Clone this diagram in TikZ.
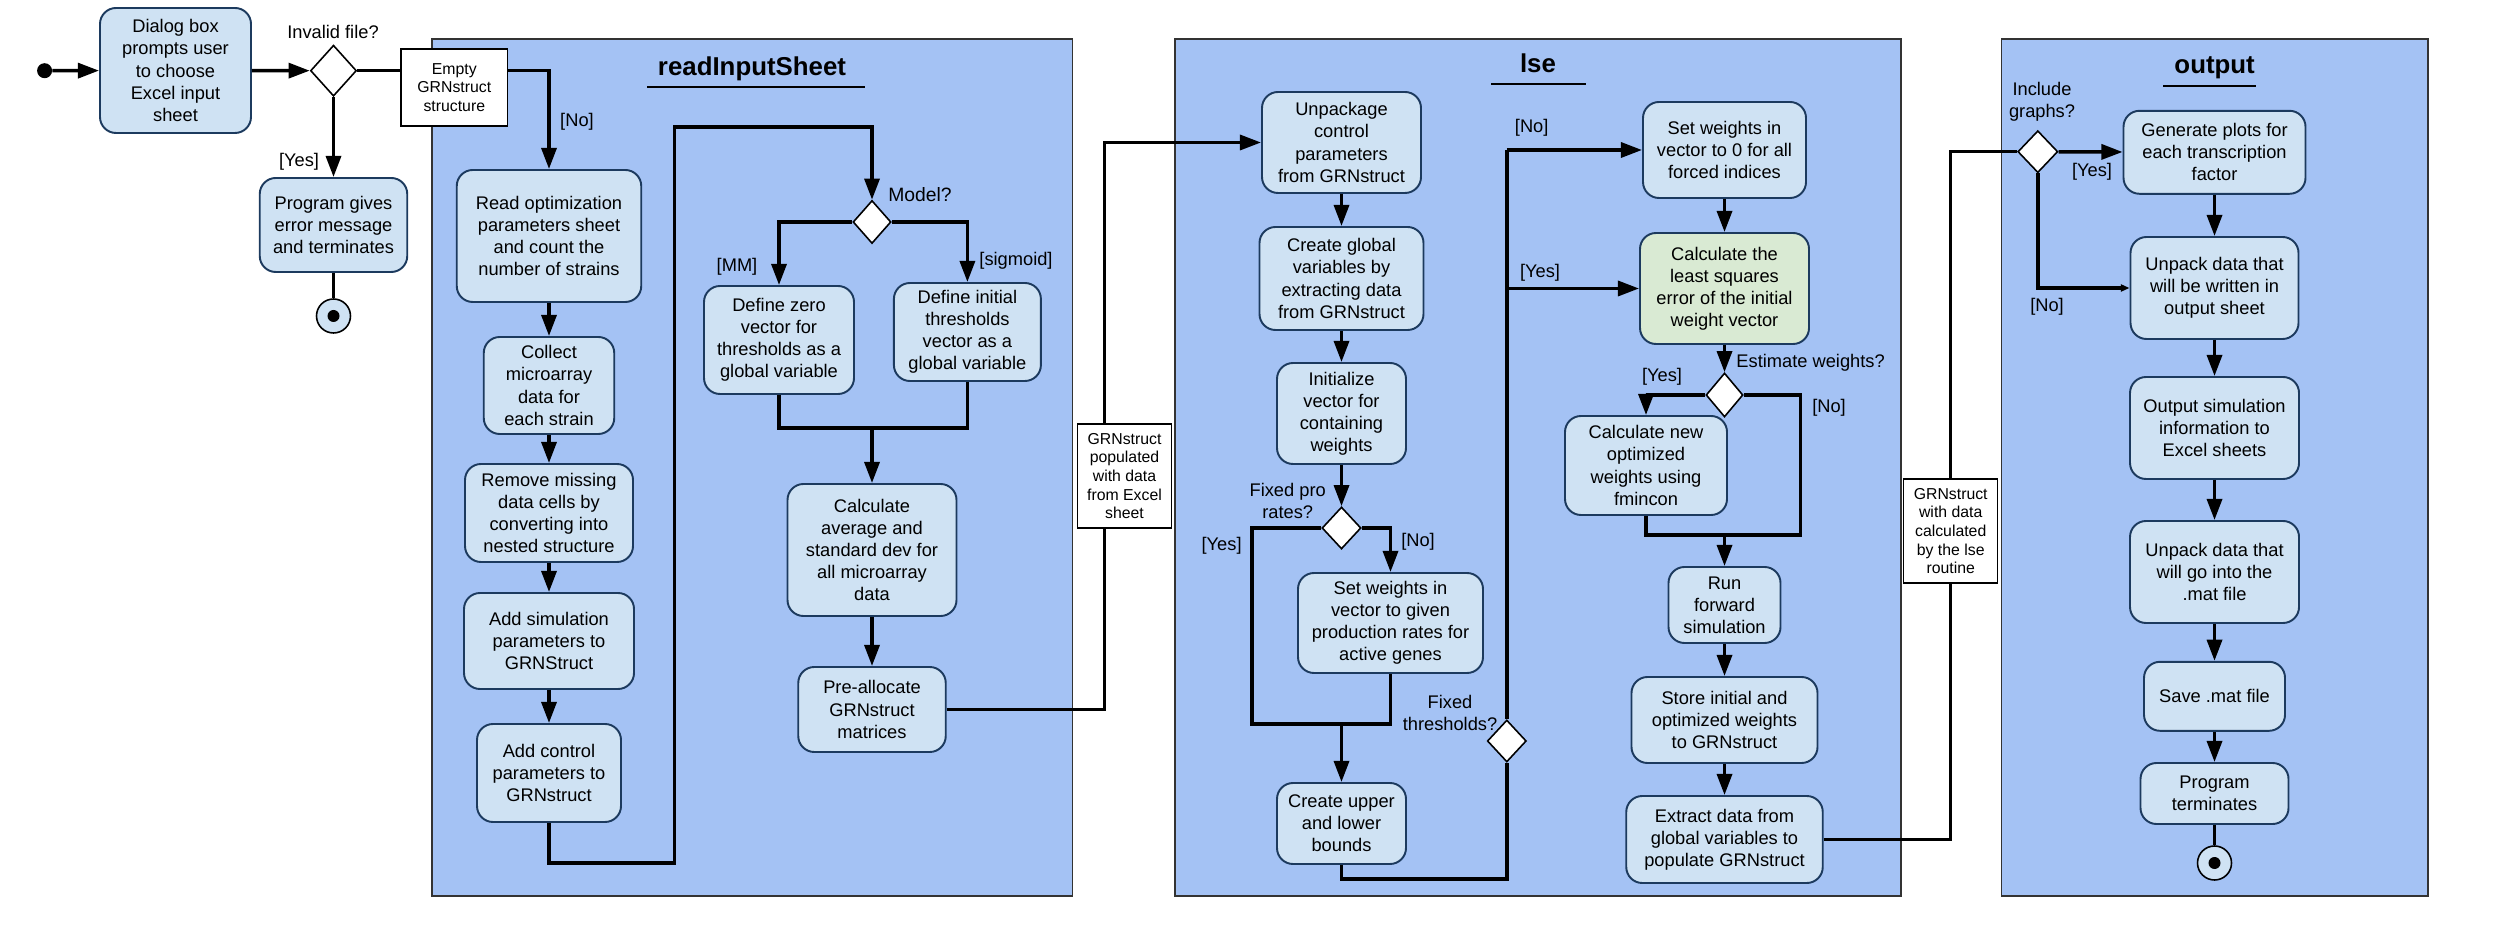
\documentclass[tikz,border=0pt]{standalone}
\usepackage{fontspec}
\setmainfont{Liberation Sans}
\usetikzlibrary{arrows.meta,shapes.geometric}
\definecolor{lanefill}{HTML}{A4C2F4}
\definecolor{actfill}{HTML}{CFE2F3}
\definecolor{actline}{HTML}{1C3A5E}
\definecolor{lsefill}{HTML}{D9EAD3}
\begin{document}
\begin{tikzpicture}[x=0.2mm, y=-0.2mm,
    every node/.style={font=\fontsize{10.4}{12.6}\selectfont},
    act/.style={draw=actline, line width=1.1pt, fill=actfill, rounded corners=3.2mm, align=center, inner sep=0pt},
    obj/.style={draw=black, line width=0.8pt, fill=white, align=center, inner sep=0pt, font=\fontsize{9}{10.6}\selectfont},
    dec/.style={diamond, draw=black, line width=0.9pt, fill=white, inner sep=0pt},
    lane/.style={draw=black!80, line width=0.7pt, fill=lanefill},
    lanetitle/.style={font=\fontsize{14.7}{16}\selectfont\bfseries},
    flow/.style={line width=2pt},
    arr/.style={flow, -{Triangle[length=12pt,width=8.5pt]}},
    smallarr/.style={flow, -{Triangle[length=5pt,width=4pt]}}]

	\useasboundingbox (0,0) rectangle (2500,927);

	\draw[lane] (432,39) rectangle (1072.5,896);
	\draw[lane] (1175,39) rectangle (1901,896);
	\draw[lane] (2001.4,39) rectangle (2428,896);

	\node[lanetitle] (tread) at (752,69) {readInputSheet};
	\node[lanetitle] (tlse) at (1538,63) {lse};
	\node[lanetitle] (tout) at (2214.6,68) {output};
	\draw[line width=1pt] (647,87) -- (865,87);
	\draw[line width=1pt] (1491,84) -- (1586,84);
	\draw[line width=1pt] (2163,86) -- (2256,86);

	\node[circle, fill=black, minimum size=3mm, inner sep=0pt] (start) at (44.6,70.7) {};
	\node[act, minimum width=30.2mm, minimum height=25mm] (dialog) at (175.5,70.5) {Dialog box\\prompts user\\to choose\\Excel input\\sheet};
	\node[dec, minimum width=9.2mm, minimum height=10.2mm] (invalid) at (333.5,70.7) {};
	\node (qinvalid) at (333,32) {Invalid file?};
	\node[obj, minimum width=21.3mm, minimum height=15.4mm] (empty) at (454.3,87.5) {Empty\\GRNstruct\\structure};
	\node[act, minimum width=29.5mm, minimum height=18.8mm] (progerr) at (333.5,225) {Program gives\\error message\\and terminates};
	\node[circle, draw=black, line width=0.9pt, fill=actfill, minimum size=6.8mm, inner sep=0pt] (end1) at (333.5,316) {};
	\fill (end1) circle (1.2mm);

	\node[act, minimum width=36.9mm, minimum height=26.4mm] (read) at (549,236) {Read optimization\\parameters sheet\\and count the\\number of strains};
	\node[act, minimum width=26.1mm, minimum height=19.4mm] (collect) at (549,385.5) {Collect\\microarray\\data for\\each strain};
	\node[act, minimum width=33.6mm, minimum height=19.6mm] (remove) at (549,513) {Remove missing\\data cells by\\converting into\\nested structure};
	\node[act, minimum width=34mm, minimum height=19.2mm] (addsim) at (549,641) {Add simulation\\parameters to\\GRNStruct};
	\node[act, minimum width=28.8mm, minimum height=19.6mm] (addctrl) at (549,773) {Add control\\parameters to\\GRNstruct};

	\node[dec, minimum width=7.6mm, minimum height=8.6mm] (model) at (872,222) {};
	\node[font=\fontsize{11}{13}\selectfont] (qmodel) at (920,195) {Model?};
	\node[act, minimum width=30mm, minimum height=21.6mm] (zero) at (779,340) {Define zero\\vector for\\thresholds as a\\global variable};
	\node[act, minimum width=29.4mm, minimum height=19.6mm] (initial) at (967.4,332) {Define initial\\thresholds\\vector as a\\global variable};
	\node (gmm) at (737,267) {[MM]};
	\node (gsig) at (1016,261) {[sigmoid]};
	\node[act, minimum width=33.8mm, minimum height=26.4mm] (calc) at (872,550) {Calculate\\average and\\standard dev for\\all microarray\\data};
	\node[act, minimum width=29.5mm, minimum height=17mm] (prealloc) at (872,709.5) {Pre-allocate\\GRNstruct\\matrices};
	\node[obj, minimum width=18.8mm, minimum height=20.8mm] (grnin) at (1124.5,476) {GRNstruct\\populated\\with data\\from Excel\\sheet};

	\node[act, minimum width=31.8mm, minimum height=20.2mm] (unpack) at (1341.5,142.5) {Unpackage\\control\\parameters\\from GRNstruct};
	\node[act, minimum width=32.8mm, minimum height=20.6mm] (global) at (1341.5,278.5) {Create global\\variables by\\extracting data\\from GRNstruct};
	\node[act, minimum width=25.8mm, minimum height=20.2mm] (init) at (1341.5,413.5) {Initialize\\vector for\\containing\\weights};
	\node[dec, minimum width=7.8mm, minimum height=8.4mm] (fixedpro) at (1341.5,528) {};
	\node[align=center] (qfixedpro) at (1287.7,501) {Fixed pro\\rates?};
	\node[act, minimum width=37mm, minimum height=20mm] (setgiven) at (1390.5,623) {Set weights in\\vector to given\\production rates for\\active genes};
	\node[act, minimum width=25.8mm, minimum height=16.2mm] (upper) at (1341.5,823.5) {Create upper\\and lower\\bounds};
	\node[dec, minimum width=7.8mm, minimum height=8.4mm] (fixedthr) at (1506.8,741) {};
	\node[align=center] (qfixedthr) at (1450,713) {Fixed\\thresholds?};
	\node (gyes3) at (1221.6,546) {[Yes]};
	\node (gno3) at (1418,542) {[No]};
	\node (gno2) at (1531.7,128) {[No]};
	\node (gyes2) at (1540,273) {[Yes]};

	\node[act, minimum width=32.6mm, minimum height=19.2mm] (setzero) at (1724.5,150) {Set weights in\\vector to 0 for all\\forced indices};
	\node[act, fill=lsefill, minimum width=33.8mm, minimum height=22.2mm] (calcls) at (1724.5,288.5) {Calculate the\\least squares\\error of the initial\\weight vector};
	\node[dec, minimum width=7.4mm, minimum height=8.8mm] (estimate) at (1724.5,395) {};
	\node (qestimate) at (1810.6,363) {Estimate weights?};
	\node (gyes4) at (1662,377) {[Yes]};
	\node (gno4) at (1829,408) {[No]};
	\node[act, minimum width=32.4mm, minimum height=19.8mm] (calcnew) at (1646,465.5) {Calculate new\\optimized\\weights using\\fmincon};
	\node[act, minimum width=22.4mm, minimum height=15.2mm] (runfwd) at (1724.5,605) {Run\\forward\\simulation};
	\node[act, minimum width=37.2mm, minimum height=17.2mm] (store) at (1724.5,720) {Store initial and\\optimized weights\\to GRNstruct};
	\node[act, minimum width=39.3mm, minimum height=17.4mm] (extract) at (1724.5,839.5) {Extract data from\\global variables to\\populate GRNstruct};
	\node[obj, minimum width=18.8mm, minimum height=20.8mm] (grnout) at (1950.7,531) {GRNstruct\\with data\\calculated\\by the lse\\routine};

	\node[dec, minimum width=8mm, minimum height=8.4mm] (include) at (2037.8,151.7) {};
	\node[align=center] (qinclude) at (2042,101.7) {Include\\graphs?};
	\node (gyes5) at (2092,171.7) {[Yes]};
	\node (gno5) at (2047,307) {[No]};
	\node[act, minimum width=36.4mm, minimum height=16.6mm] (generate) at (2214.5,152.3) {Generate plots for\\each transcription\\factor};
	\node[act, minimum width=33.6mm, minimum height=20.4mm] (unpackw) at (2214.5,288) {Unpack data that\\will be written in\\output sheet};
	\node[act, minimum width=33.8mm, minimum height=20.4mm] (outsim) at (2214.5,428) {Output simulation\\information to\\Excel sheets};
	\node[act, minimum width=33.8mm, minimum height=20.4mm] (unpackmat) at (2214.5,572) {Unpack data that\\will go into the\\.mat file};
	\node[act, minimum width=28.2mm, minimum height=13.8mm] (save) at (2214.5,696.3) {Save .mat file};
	\node[act, minimum width=29.6mm, minimum height=12.2mm] (progend) at (2214.5,793.5) {Program\\terminates};
	\node[circle, draw=black, line width=0.9pt, fill=actfill, minimum size=6.8mm, inner sep=0pt] (end2) at (2214.5,863) {};
	\fill (end2) circle (1.2mm);

	\node (gyes1) at (299,162) {[Yes]};
	\node (gno1) at (577,122) {[No]};

	\coordinate (loopb) at (674.5,863);
	\coordinate (loopt) at (674.5,127);
	\coordinate (merge) at (872,428);
	\coordinate (yesl) at (1251.8,724);
	\coordinate (join1) at (1341.5,724);
	\coordinate (uppb) at (1506.8,879);
	\coordinate (trunk) at (1506.8,150);
	\coordinate (estno) at (1800.6,535);
	\coordinate (join2) at (1724.5,535);

	\draw[arr] (start) -- (dialog);
	\draw[arr] (dialog) -- (invalid);
	\draw[flow] (invalid.east) -- (invalid.east -| empty.west);
	\draw[arr] (invalid.east -| empty.east) -| (read);
	\draw[arr] (invalid) -- (progerr);
	\draw[flow] (progerr) -- (end1);

	\draw[arr] (read) -- (collect);
	\draw[arr] (collect) -- (remove);
	\draw[arr] (remove) -- (addsim);
	\draw[arr] (addsim) -- (addctrl);
	\draw[arr] (addctrl) |- (loopb) -- (loopt) -| (model);
	\draw[arr] (model) -| (zero);
	\draw[arr] (model) -| (initial);
	\draw[flow] (zero) |- (merge) -| (initial);
	\draw[arr] (merge) -- (calc);
	\draw[arr] (calc) -- (prealloc);
	\draw[flow] (prealloc) -| ([xshift=-4mm]grnin.south);
	\draw[arr] ([xshift=-4mm]grnin.north) |- (unpack);

	\draw[arr] (unpack) -- (global);
	\draw[arr] (global) -- (init);
	\draw[arr] (init) -- (fixedpro);
	\draw[arr] (fixedpro) -| (setgiven);
	\draw[flow] (fixedpro) -| (yesl) -| (setgiven);
	\draw[arr] (join1) -- (upper);
	\draw[flow] (upper) |- (uppb) -- (fixedthr);
	\draw[flow] (fixedthr) -- (trunk);
	\draw[arr] (trunk) -- (setzero);
	\draw[arr] (fixedthr |- calcls) -- (calcls);
	\draw[arr] (setzero) -- (calcls);
	\draw[arr] (calcls) -- (estimate);
	\draw[arr] (estimate) -| (calcnew);
	\draw[flow] (estimate) -| (estno) -| (calcnew);
	\draw[arr] (join2) -- (runfwd);
	\draw[arr] (runfwd) -- (store);
	\draw[arr] (store) -- (extract);
	\draw[flow] (extract) -| (grnout);

	\draw[flow] (grnout) |- (include);
	\draw[arr] (include) -- (generate);
	\draw[smallarr] (include) |- (unpackw);
	\draw[arr] (generate) -- (unpackw);
	\draw[arr] (unpackw) -- (outsim);
	\draw[arr] (outsim) -- (unpackmat);
	\draw[arr] (unpackmat) -- (save);
	\draw[arr] (save) -- (progend);
	\draw[flow] (progend) -- (end2);

\end{tikzpicture}
\end{document}
